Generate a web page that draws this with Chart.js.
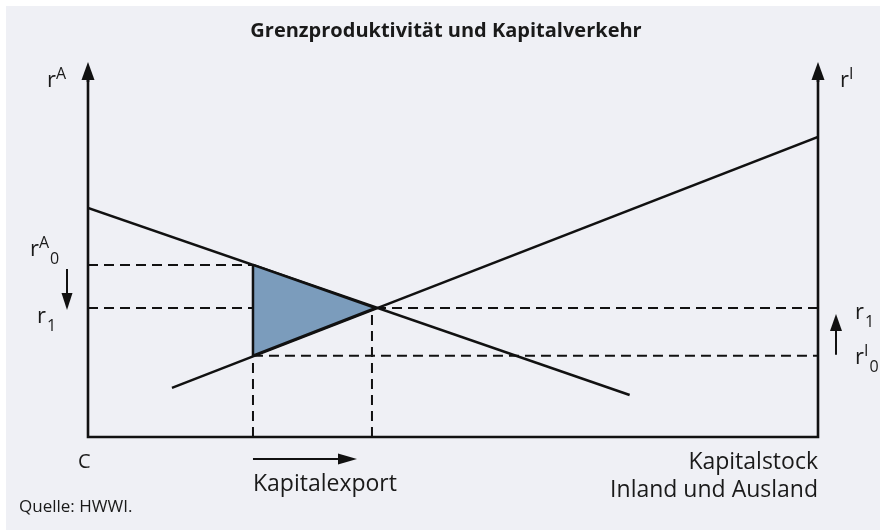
<!DOCTYPE html>
<html lang="de">
<head>
<meta charset="utf-8">
<title>Grenzproduktivität und Kapitalverkehr</title>
<script src="https://cdn.jsdelivr.net/npm/chart.js@4.4.1/dist/chart.umd.min.js"></script>
<style>
  html, body { margin: 0; padding: 0; background: #ffffff; }
  #box { width: 880px; height: 530px; }
</style>
</head>
<body>
<div id="box"><canvas id="grafik" width="880" height="530"></canvas></div>
<script>
// Werte (Achsen 0..100)
const grenzAuslandX = [0, 74.2];      // fallende Kurve (Ausland)
const grenzAuslandY = [61.1, 11.2];
const grenzInlandX = [11.5, 100];     // steigende Kurve (Inland)
const grenzInlandY = [13.1, 80];
const kapitalExportX = [22.6, 38.9];  // Beginn / Ende Kapitalexport
const zinsY = [45.9, 34.4, 21.7];     // r^A_0, r_1, r^I_0
const dreieckX = [22.6, 39.4, 22.6, 22.6];
const dreieckY = [45.9, 34.4, 21.7, 45.9];

const titel = 'Grenzproduktivität und Kapitalverkehr';
const achsenText = ['Kapitalstock', 'Inland und Ausland'];
const exportText = 'Kapitalexport';
const quelle = 'Quelle: HWWI.';

const schrift = '"Open Sans", "Noto Sans", sans-serif';
const schwarz = '#111111';

function punkte(xs, ys) {
    return xs.map((x, i) => ({ x: x, y: ys[i] }));
}

function pfeil(ctx, x1, y1, x2, y2, kopfL, kopfB) {
    const w = Math.atan2(y2 - y1, x2 - x1);
    const bx = x2 - Math.cos(w) * kopfL;
    const by = y2 - Math.sin(w) * kopfL;
    ctx.beginPath();
    ctx.moveTo(x1, y1);
    ctx.lineTo(bx, by);
    ctx.stroke();
    ctx.beginPath();
    ctx.moveTo(x2, y2);
    ctx.lineTo(bx + Math.sin(w) * kopfB / 2, by - Math.cos(w) * kopfB / 2);
    ctx.lineTo(bx - Math.sin(w) * kopfB / 2, by + Math.cos(w) * kopfB / 2);
    ctx.closePath();
    ctx.fill();
}

function rText(ctx, x, y, hoch, tief) {
    ctx.textAlign = 'left';
    ctx.font = '22px ' + schrift;
    ctx.fillText('r', x, y);
    let w = x + ctx.measureText('r').width;
    ctx.font = '16px ' + schrift;
    if (hoch) {
        ctx.fillText(hoch, w, y - 8);
        w += ctx.measureText(hoch).width;
    }
    if (tief) ctx.fillText(tief, w + 1, y + 8);
}

const zeichnen = {
    id: 'zeichnen',
    beforeDraw(chart) {
        const ctx = chart.ctx;
        ctx.save();
        ctx.fillStyle = '#eff0f5';
        ctx.fillRect(6, 6, chart.width - 6, chart.height - 6);
        ctx.restore();
    },
    afterDatasetsDraw(chart) {
        const ctx = chart.ctx;
        const xs = chart.scales.x, ys = chart.scales.y;
        const links = xs.getPixelForValue(0);
        const rechts = xs.getPixelForValue(100);
        const unten = ys.getPixelForValue(0);
        const oben = chart.chartArea.top;

        ctx.save();
        ctx.strokeStyle = schwarz;
        ctx.fillStyle = schwarz;

        // Achsen
        ctx.lineWidth = 2.6;
        ctx.lineJoin = 'miter';
        ctx.beginPath();
        ctx.moveTo(links, oben + 15);
        ctx.lineTo(links, unten);
        ctx.lineTo(rechts, unten);
        ctx.lineTo(rechts, oben + 15);
        ctx.stroke();
        pfeil(ctx, links, oben + 20, links, oben, 18, 13);
        pfeil(ctx, rechts, oben + 20, rechts, oben, 18, 13);

        // kleine Pfeile
        ctx.lineWidth = 2;
        pfeil(ctx, links - 21, ys.getPixelForValue(zinsY[0]) + 4, links - 21, ys.getPixelForValue(zinsY[1]) + 2, 17, 11);
        pfeil(ctx, rechts + 18, ys.getPixelForValue(zinsY[2]) - 1, rechts + 18, ys.getPixelForValue(zinsY[1]) + 6, 17, 12);
        const ex = xs.getPixelForValue(kapitalExportX[0]);
        pfeil(ctx, ex, unten + 22, ex + 104, unten + 22, 19, 11);

        // Beschriftung
        ctx.fillStyle = '#1a1a1a';
        ctx.textBaseline = 'alphabetic';
        rText(ctx, links - 41, oben + 25, 'A', '');
        rText(ctx, rechts + 22, oben + 25, 'I', '');
        rText(ctx, links - 58, ys.getPixelForValue(zinsY[0]) - 9, 'A', '0');
        rText(ctx, links - 51, ys.getPixelForValue(zinsY[1]) + 15, '', '1');
        rText(ctx, rechts + 37, ys.getPixelForValue(zinsY[1]) + 11, '', '1');
        rText(ctx, rechts + 37, ys.getPixelForValue(zinsY[2]) + 8, 'I', '0');

        ctx.font = '20px ' + schrift;
        ctx.textAlign = 'left';
        ctx.fillText('C', links - 10, unten + 31);

        ctx.font = '23px ' + schrift;
        ctx.fillText(exportText, ex, unten + 54);
        ctx.textAlign = 'right';
        ctx.fillText(achsenText[0], rechts, unten + 32);
        ctx.fillText(achsenText[1], rechts, unten + 60);

        ctx.textAlign = 'left';
        ctx.font = '17px ' + schrift;
        ctx.fillText(quelle, 19, 512);

        ctx.textAlign = 'center';
        ctx.font = 'bold 20px ' + schrift;
        ctx.fillText(titel, 446, 37);
        ctx.restore();
    }
};

const strich = { showLine: true, pointRadius: 0, borderColor: schwarz, borderWidth: 2, borderDash: [10, 6], fill: false };

new Chart(document.getElementById('grafik'), {
    type: 'scatter',
    data: {
        datasets: [
            {
                data: punkte(dreieckX, dreieckY),
                showLine: true,
                pointRadius: 0,
                borderColor: schwarz,
                borderWidth: 2.5,
                backgroundColor: '#7b9cbc',
                fill: 'shape'
            },
            { data: punkte(grenzAuslandX, grenzAuslandY), showLine: true, pointRadius: 0, borderColor: schwarz, borderWidth: 2.5 },
            { data: punkte(grenzInlandX, grenzInlandY), showLine: true, pointRadius: 0, borderColor: schwarz, borderWidth: 2.5 },
            { ...strich, data: [{ x: 0, y: zinsY[0] }, { x: kapitalExportX[0], y: zinsY[0] }] },
            { ...strich, data: [{ x: 0, y: zinsY[1] }, { x: 100, y: zinsY[1] }] },
            { ...strich, data: [{ x: kapitalExportX[0], y: zinsY[2] }, { x: 100, y: zinsY[2] }] },
            { ...strich, data: [{ x: kapitalExportX[0], y: 0 }, { x: kapitalExportX[0], y: zinsY[2] }] },
            { ...strich, data: [{ x: kapitalExportX[1], y: 0 }, { x: kapitalExportX[1], y: zinsY[1] }] }
        ]
    },
    options: {
        responsive: false,
        animation: false,
        events: [],
        layout: { padding: { left: 88, right: 62, top: 62, bottom: 93 } },
        scales: {
            x: { type: 'linear', min: 0, max: 100, display: false },
            y: { type: 'linear', min: 0, max: 100, display: false }
        },
        plugins: {
            legend: { display: false },
            tooltip: { enabled: false }
        }
    },
    plugins: [zeichnen]
});
</script>
</body>
</html>
